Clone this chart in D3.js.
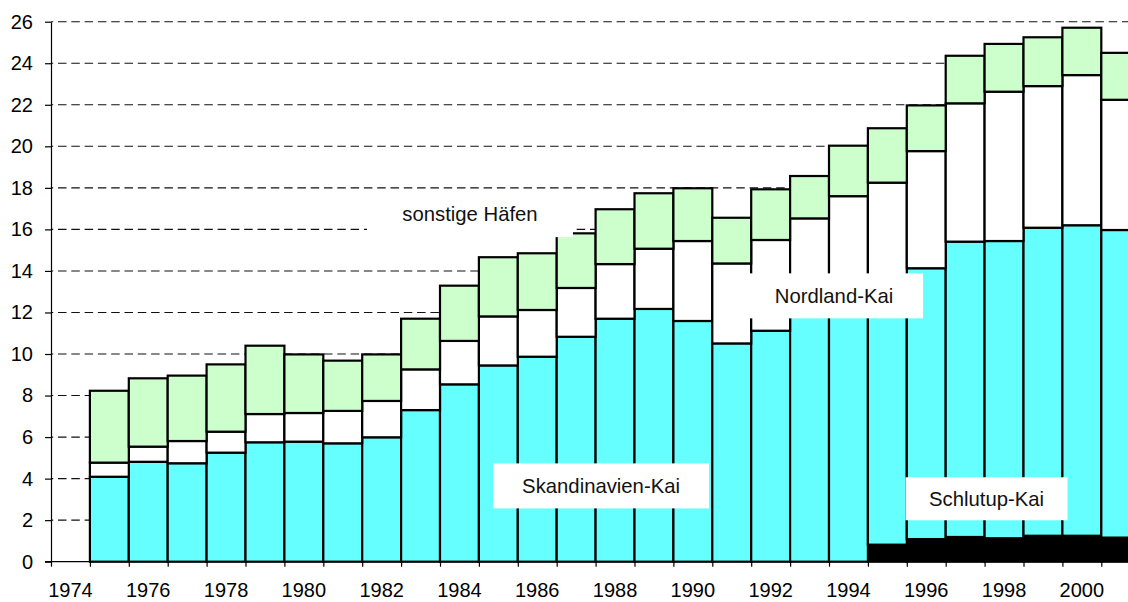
<!DOCTYPE html>
<html lang="de">
<head>
  <meta charset="UTF-8">
  <title>Umschlag Lübeck nach Häfen</title>
  <script src="https://d3js.org/d3.v7.min.js"></script>
  <style>
    body {
      margin: 0;
      background: #fff;
    }

    svg {
      display: block;
      font-family: "Liberation Sans", Arial, sans-serif;
    }

    .grid line {
      stroke: #111;
      stroke-width: 1.1;
      stroke-dasharray: 8.5, 4.8;
    }

    .axis path,
    .axis line {
      stroke: #000;
      stroke-width: 1.2;
    }

    .axis text {
      font-size: 20px;
      fill: #000;
    }

    .note text {
      font-size: 20.3px;
      fill: #111;
    }
  </style>
</head>

<body>
  <svg width="1128" height="602"></svg>

  <script>
    // categories (1974 has no data)
    const years = [1974, 1975, 1976, 1977, 1978, 1979, 1980, 1981, 1982, 1983, 1984, 1985, 1986, 1987,
      1988, 1989, 1990, 1991, 1992, 1993, 1994, 1995, 1996, 1997, 1998, 1999, 2000, 2001];

    // series values, stacked bottom to top
    const schlutup = [0, 0, 0, 0, 0, 0, 0, 0, 0, 0, 0, 0, 0, 0,
      0, 0, 0, 0, 0, 0, 0, 0.82, 1.09, 1.19, 1.13, 1.25, 1.25, 1.16];
    const skandinavien = [0, 4.09, 4.81, 4.74, 5.25, 5.75, 5.78, 5.70, 5.99, 7.30, 8.54, 9.45, 9.87, 10.83,
      11.70, 12.17, 11.59, 10.51, 11.12, 12.20, 12.90, 12.68, 13.04, 14.22, 14.31, 14.83, 14.95, 14.81];
    const nordland = [0, 0.68, 0.73, 1.07, 1.01, 1.36, 1.38, 1.56, 1.75, 1.96, 2.09, 2.36, 2.25, 2.35,
      2.63, 2.90, 3.85, 3.85, 4.37, 4.33, 4.70, 4.75, 5.64, 6.66, 7.19, 6.82, 7.23, 6.27];
    const sonstige = [0, 3.46, 3.29, 3.15, 3.24, 3.29, 2.82, 2.42, 2.24, 2.44, 2.66, 2.85, 2.73, 2.63,
      2.64, 2.67, 2.54, 2.20, 2.44, 2.04, 2.43, 2.62, 2.20, 2.29, 2.30, 2.35, 2.28, 2.26];

    const seriesNames = ["Schlutup-Kai", "Skandinavien-Kai", "Nordland-Kai", "sonstige Häfen"];
    const seriesColors = ["#000000", "#66FFFF", "#FFFFFF", "#CCFFCC"];
    const yTicks = [0, 2, 4, 6, 8, 10, 12, 14, 16, 18, 20, 22, 24, 26];
    const xTickLabels = [1974, 1976, 1978, 1980, 1982, 1984, 1986, 1988, 1990, 1992, 1994, 1996, 1998, 2000];

    const table = years.map((yr, i) => ({
      year: yr,
      "Schlutup-Kai": schlutup[i],
      "Skandinavien-Kai": skandinavien[i],
      "Nordland-Kai": nordland[i],
      "sonstige Häfen": sonstige[i]
    }));

    const svg = d3.select("svg");
    const plotLeft = 51, plotBottom = 561.7, plotTop = 21.7, step = 38.9;
    const plotRight = plotLeft + years.length * step; // runs past the picture edge, as in the original

    const x = d3.scaleBand().domain(years).range([plotLeft, plotRight]).padding(0);
    const xLin = d3.scaleLinear().domain([1974, 2002]).range([plotLeft, plotRight]);
    const y = d3.scaleLinear().domain([0, 26]).range([plotBottom, plotTop]);
    const color = d3.scaleOrdinal().domain(seriesNames).range(seriesColors);

    // dashed gridlines
    svg.append("g")
      .attr("class", "grid")
      .selectAll("line")
      .data(yTicks.filter(d => d > 0))
      .join("line")
      .attr("x1", plotLeft)
      .attr("x2", 1128)
      .attr("y1", d => y(d))
      .attr("y2", d => y(d))
      .attr("stroke-dashoffset", 6.3);

    // stacked bars
    const stacked = d3.stack().keys(seriesNames)(table);

    svg.append("g")
      .selectAll("g")
      .data(stacked)
      .join("g")
      .attr("fill", d => color(d.key))
      .selectAll("rect")
      .data(d => d.filter(s => s[1] - s[0] > 0))
      .join("rect")
      .attr("x", d => x(d.data.year))
      .attr("width", x.bandwidth())
      .attr("y", d => y(d[1]))
      .attr("height", d => y(d[0]) - y(d[1]))
      .attr("stroke", "#000")
      .attr("stroke-width", 2.2);

    // series labels on white boxes, anchored in data units
    const notes = [
      { name: "sonstige Häfen", at: [1984.77, 16.76], w: 206, h: 47 },
      { name: "Nordland-Kai", at: [1994.13, 12.8], w: 178, h: 45 },
      { name: "Skandinavien-Kai", at: [1988.14, 3.65], w: 216, h: 45 },
      { name: "Schlutup-Kai", at: [1998.05, 3.03], w: 162, h: 43 }
    ];

    const note = svg.append("g")
      .attr("class", "note")
      .selectAll("g")
      .data(notes)
      .join("g")
      .attr("transform", d => `translate(${xLin(d.at[0])},${y(d.at[1])})`);

    note.append("rect")
      .attr("x", d => -d.w / 2)
      .attr("y", d => -d.h / 2)
      .attr("width", d => d.w)
      .attr("height", d => d.h)
      .attr("fill", "#fff");

    note.append("text")
      .attr("text-anchor", "middle")
      .attr("dy", "0.36em")
      .text(d => d.name);

    // y axis
    svg.append("g")
      .attr("class", "axis")
      .attr("transform", `translate(${plotLeft},0)`)
      .call(d3.axisLeft(y).tickValues(yTicks).tickSize(6).tickSizeOuter(0).tickPadding(12));

    // x axis: ticks at category boundaries, labels at every second category
    svg.append("g")
      .attr("class", "axis")
      .attr("transform", `translate(0,${plotBottom})`)
      .call(d3.axisBottom(xLin).tickValues(years.concat([2002])).tickFormat("").tickSize(5).tickSizeOuter(0))
      .call(g => g.select(".domain").attr("d", `M${plotLeft - 6},0H1128`));

    svg.append("g")
      .attr("class", "axis")
      .attr("transform", `translate(0,${plotBottom})`)
      .call(d3.axisBottom(x).tickValues(xTickLabels).tickSize(0).tickPadding(21))
      .call(g => g.select(".domain").remove());
  </script>
</body>

</html>
